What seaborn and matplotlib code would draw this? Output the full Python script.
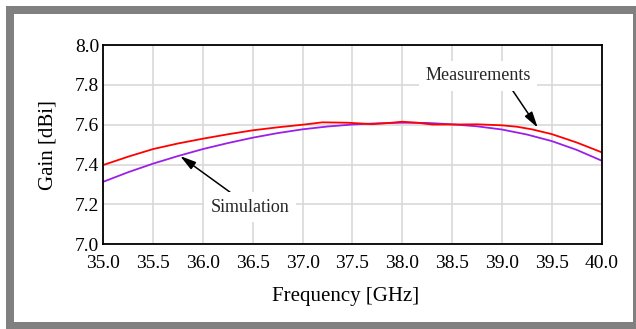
import matplotlib
matplotlib.use("Agg")
import matplotlib.pyplot as plt
from matplotlib.patches import Rectangle
import seaborn as sns
import pandas as pd

# ---- data ----
sim_freq = [35.0, 35.25, 35.5, 35.75, 36.0, 36.25, 36.5, 36.75, 37.0, 37.25, 37.5,
            37.75, 38.0, 38.25, 38.5, 38.75, 39.0, 39.25, 39.5, 39.75, 40.0]
sim_gain = [7.314, 7.362, 7.405, 7.443, 7.478, 7.508, 7.535, 7.558, 7.577, 7.591, 7.601,
            7.607, 7.610, 7.609, 7.602, 7.592, 7.576, 7.551, 7.518, 7.474, 7.420]
meas_freq = [35.0, 35.25, 35.5, 35.75, 36.0, 36.25, 36.5, 36.75, 37.0, 37.2, 37.45,
             37.7, 37.85, 38.0, 38.15, 38.3, 38.5, 38.75, 39.0, 39.15, 39.3, 39.5, 39.75, 40.0]
meas_gain = [7.398, 7.440, 7.478, 7.506, 7.530, 7.552, 7.572, 7.587, 7.600, 7.612, 7.610,
             7.603, 7.608, 7.615, 7.610, 7.601, 7.601, 7.602, 7.597, 7.590, 7.577, 7.553, 7.511, 7.462]
x_ticks = [35.0, 35.5, 36.0, 36.5, 37.0, 37.5, 38.0, 38.5, 39.0, 39.5, 40.0]
y_ticks = [7.0, 7.2, 7.4, 7.6, 7.8, 8.0]

sim_df = pd.DataFrame({"Frequency": sim_freq, "Gain": sim_gain})
meas_df = pd.DataFrame({"Frequency": meas_freq, "Gain": meas_gain})

sns.set_theme(style="whitegrid")
plt.rcParams["font.family"] = ["Liberation Serif", "DejaVu Serif"]

W, H = 636, 329
fig = plt.figure(figsize=(W / 100, H / 100), dpi=100)
fig.patch.set_facecolor("white")

# gray frame
fig.patches.append(Rectangle((6 / W, 0), 1 - 6 / W, (H - 6) / H, transform=fig.transFigure,
                             facecolor="#808080", edgecolor="none", zorder=-10))
fig.patches.append(Rectangle((14 / W, (H - 322) / H), (633 - 14) / W, (322 - 14) / H,
                             transform=fig.transFigure, facecolor="white", edgecolor="none", zorder=-9))

ax = fig.add_axes([103.4 / W, (H - 244.3) / H, 498.1 / W, 199.3 / H])
ax.set_facecolor("white")

sns.lineplot(data=meas_df, x="Frequency", y="Gain", ax=ax, color="#ff0000", lw=1.3, zorder=3)
sns.lineplot(data=sim_df, x="Frequency", y="Gain", ax=ax, color="#9b1fe8", lw=1.3, zorder=2)

ax.set_xlim(35.0, 40.0)
ax.set_ylim(7.0, 8.0)
ax.set_xticks(x_ticks)
ax.set_xticklabels([f"{v:.1f}" for v in x_ticks])
ax.set_yticks(y_ticks)
ax.set_yticklabels([f"{v:.1f}" for v in y_ticks])
ax.grid(True, color="#d9d9d9", lw=1.2)
ax.tick_params(axis="both", length=0, labelsize=14, colors="black")
ax.tick_params(axis="x", pad=7.5)
ax.tick_params(axis="y", pad=3)
for s in ax.spines.values():
    s.set_color("black")
    s.set_linewidth(1.3)
    s.set_zorder(5)

ax.set_xlabel("Frequency [GHz]", fontsize=15, color="black")
ax.set_ylabel("Gain [dBi]", fontsize=15, color="black")
ax.xaxis.set_label_coords(0.487, -0.215)
ax.yaxis.set_label_coords(-0.092, 0.5)

bbox = dict(boxstyle="square,pad=0.35", fc="white", ec="none")
ax.annotate("Measurements", xy=(39.36, 7.585), xytext=(38.76, 7.845),
            ha="center", va="center", fontsize=13, bbox=bbox, zorder=6,
            arrowprops=dict(arrowstyle="-|>,head_length=0.8,head_width=0.22", color="black",
                            lw=1.1, shrinkA=0, shrinkB=0, relpos=(0.79, 0.0),
                            mutation_scale=12))
ax.annotate("Simulation", xy=(35.77, 7.443), xytext=(36.47, 7.187),
            ha="center", va="center", fontsize=13, bbox=bbox, zorder=6,
            arrowprops=dict(arrowstyle="-|>,head_length=0.8,head_width=0.22", color="black",
                            lw=1.1, shrinkA=0, shrinkB=0, relpos=(0.36, 1.0),
                            mutation_scale=12))

fig.savefig("out.png", dpi=100, facecolor="white")
